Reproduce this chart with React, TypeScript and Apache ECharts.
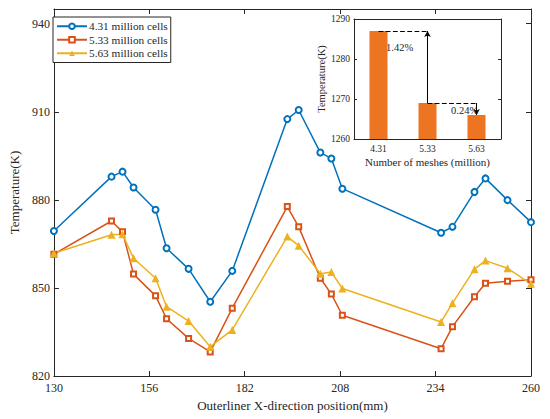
import React, { useEffect, useRef } from "react";
import * as echarts from "echarts";

const xPositions = [130, 145.7, 148.7, 151.7, 157.7, 160.7, 166.7, 172.6, 178.6, 193.6, 196.7, 202.6, 205.6, 208.6, 235.5, 238.6, 244.6, 247.6, 253.6, 260];
const cells431 = [869.4, 887.9, 889.6, 884.2, 876.6, 863.5, 856.5, 845.3, 855.8, 907.5, 910.6, 896.1, 894.1, 883.8, 868.8, 870.8, 882.7, 887.3, 879.9, 872.4];
const cells533 = [861.5, 872.8, 869.1, 854.7, 847.3, 839.5, 832.8, 828.2, 843.1, 877.7, 870.8, 853.3, 847.9, 840.7, 829.3, 836.8, 847.0, 851.6, 852.3, 852.8];
const cells563 = [861.8, 868.1, 868.3, 860.1, 853.3, 843.6, 838.7, 830.0, 835.7, 867.5, 864.4, 854.8, 855.4, 849.8, 838.4, 844.8, 856.4, 859.3, 856.7, 851.4];
const seriesNames = ["4.31 million cells", "5.33 million cells", "5.63 million cells"];

const meshCategories = ["4.31", "5.33", "5.63"];
const meshTemps = [1287, 1269, 1266];
const diffLabels = ["1.42%", "0.24%"];

const FONT = "'Liberation Serif', 'Times New Roman', serif";
const AX = "#262626";

function pairs(xs: number[], ys: number[]) {
  return xs.map((x, i) => [x, ys[i]]);
}

export default function App() {
  const ref = useRef<HTMLDivElement>(null);
  useEffect(() => {
    if (!ref.current) return;
    const chart = echarts.init(ref.current, undefined, { renderer: "svg" });
    const axisLine = { show: true, lineStyle: { color: AX, width: 1 } };
    const plain = (v: number) => String(v);
    const mainX = {
      type: "value" as const,
      gridIndex: 0,
      min: 130,
      max: 260,
      interval: 26,
      splitLine: { show: false },
    };
    const mainY = {
      type: "value" as const,
      gridIndex: 0,
      min: 820,
      max: 945,
      interval: 30,
      splitLine: { show: false },
    };
    chart.setOption({
      animation: false,
      backgroundColor: "#ffffff",
      textStyle: { fontFamily: FONT },
      grid: [
        { left: 44, right: 19, top: 9, bottom: 43 },
        { left: 354, top: 19, width: 147, height: 120, show: true, backgroundColor: "#ffffff", borderWidth: 0 },
      ],
      legend: {
        show: true,
        left: 53,
        top: 17,
        orient: "vertical",
        borderColor: AX,
        borderWidth: 1,
        borderRadius: 0,
        padding: [3, 3, 3, 3],
        itemGap: 1,
        itemWidth: 30,
        itemHeight: 7,
        backgroundColor: "#ffffff",
        textStyle: { fontFamily: FONT, fontSize: 11.3, lineHeight: 12.5, color: AX, padding: [0, 0, 0, -3] },
        data: seriesNames,
      },
      xAxis: [
        {
          ...mainX,
          position: "bottom",
          axisLine,
          axisTick: { show: true, inside: true, length: 5, lineStyle: { color: AX } },
          axisLabel: { fontFamily: FONT, fontSize: 12, color: AX, margin: 6 },
          name: "Outerliner X-direction position(mm)",
          nameLocation: "middle",
          nameGap: 21,
          nameTextStyle: { fontFamily: FONT, fontSize: 13, color: AX },
        },
        {
          ...mainX,
          position: "top",
          axisLine,
          axisTick: { show: true, inside: true, length: 5, lineStyle: { color: AX } },
          axisLabel: { show: false },
        },
        {
          type: "category",
          gridIndex: 1,
          data: meshCategories,
          position: "bottom",
          axisLine,
          axisTick: { show: true, inside: true, alignWithLabel: true, length: 3, lineStyle: { color: AX } },
          axisLabel: { fontFamily: FONT, fontSize: 9.5, color: AX, margin: 5 },
          name: "Number of meshes (million)",
          nameLocation: "middle",
          nameGap: 17,
          nameTextStyle: { fontFamily: FONT, fontSize: 11, color: AX },
        },
        {
          type: "category",
          gridIndex: 1,
          data: meshCategories,
          position: "top",
          axisLine,
          axisTick: { show: false },
          axisLabel: { show: false },
        },
      ],
      yAxis: [
        {
          ...mainY,
          position: "left",
          axisLine,
          axisTick: { show: true, inside: true, length: 5, lineStyle: { color: AX } },
          axisLabel: { fontFamily: FONT, fontSize: 12, color: AX, margin: 4, showMaxLabel: false, formatter: plain },
          name: "Temperature(K)",
          nameLocation: "middle",
          nameGap: 24,
          nameTextStyle: { fontFamily: FONT, fontSize: 13, color: AX },
        },
        {
          ...mainY,
          position: "right",
          axisLine,
          axisTick: { show: true, inside: true, length: 5, lineStyle: { color: AX } },
          axisLabel: { show: false },
        },
        {
          type: "value",
          gridIndex: 1,
          min: 1260,
          max: 1290,
          interval: 10,
          position: "left",
          splitLine: { show: false },
          axisLine,
          axisTick: { show: true, inside: true, length: 3, lineStyle: { color: AX } },
          axisLabel: { fontFamily: FONT, fontSize: 9.5, color: AX, margin: 4, formatter: plain },
          name: "Temperature(K)",
          nameLocation: "middle",
          nameGap: 20,
          nameTextStyle: { fontFamily: FONT, fontSize: 10.5, color: AX },
        },
        {
          type: "value",
          gridIndex: 1,
          min: 1260,
          max: 1290,
          interval: 10,
          position: "right",
          splitLine: { show: false },
          axisLine,
          axisTick: { show: true, inside: true, length: 3, lineStyle: { color: AX } },
          axisLabel: { show: false },
        },
      ],
      series: [
        {
          name: seriesNames[0],
          type: "line",
          xAxisIndex: 0,
          yAxisIndex: 0,
          data: pairs(xPositions, cells431),
          symbol: "emptyCircle",
          symbolSize: 6,
          lineStyle: { color: "#0072BD", width: 1.5 },
          itemStyle: { color: "#0072BD", borderWidth: 1.3 },
        },
        {
          name: seriesNames[1],
          type: "line",
          xAxisIndex: 0,
          yAxisIndex: 0,
          data: pairs(xPositions, cells533),
          symbol: "emptyRect",
          symbolSize: 5,
          lineStyle: { color: "#D95319", width: 1.5 },
          itemStyle: { color: "#D95319", borderWidth: 1.5 },
        },
        {
          name: seriesNames[2],
          type: "line",
          xAxisIndex: 0,
          yAxisIndex: 0,
          data: pairs(xPositions, cells563),
          symbol: "triangle",
          symbolSize: 8,
          lineStyle: { color: "#EDB120", width: 1.5 },
          itemStyle: { color: "#EDB120" },
        },
        {
          type: "bar",
          xAxisIndex: 2,
          yAxisIndex: 2,
          data: meshTemps,
          barWidth: 18,
          itemStyle: { color: "#ED7420" },
          z: 5,
          markLine: {
            silent: true,
            animation: false,
            label: { show: false },
            z: 6,
            data: [
              [
                { coord: [0, meshTemps[0]], symbol: "none", lineStyle: { type: "dashed", color: "#000", width: 1.2 } },
                { coord: [1, meshTemps[0]], symbol: "none" },
              ],
              [
                { coord: [1, meshTemps[1]], symbol: "none", lineStyle: { type: "solid", color: "#000", width: 1 } },
                { coord: [1, meshTemps[0]], symbol: "arrow", symbolSize: [5, 6] },
              ],
              [
                { coord: [1, meshTemps[1]], symbol: "none", lineStyle: { type: "dashed", color: "#000", width: 1.2 } },
                { coord: [2, meshTemps[1]], symbol: "none" },
              ],
              [
                { coord: [2, meshTemps[1]], symbol: "none", lineStyle: { type: "solid", color: "#000", width: 1 } },
                { coord: [2, meshTemps[2]], symbol: "arrow", symbolSize: [5, 6] },
              ],
            ],
          },
        },
      ],
      graphic: [
        {
          type: "text",
          left: 386,
          top: 42,
          style: { text: diffLabels[0], font: `10.5px ${FONT}`, fill: AX },
          z: 10,
        },
        {
          type: "text",
          left: 451,
          top: 105,
          style: { text: diffLabels[1], font: `10.5px ${FONT}`, fill: AX },
          z: 10,
        },
      ],
    });
    return () => chart.dispose();
  }, []);
  return (
    <div
      ref={ref}
      style={{ position: "fixed", left: 0, top: 0, width: 550, height: 419, background: "#fff" }}
    />
  );
}
